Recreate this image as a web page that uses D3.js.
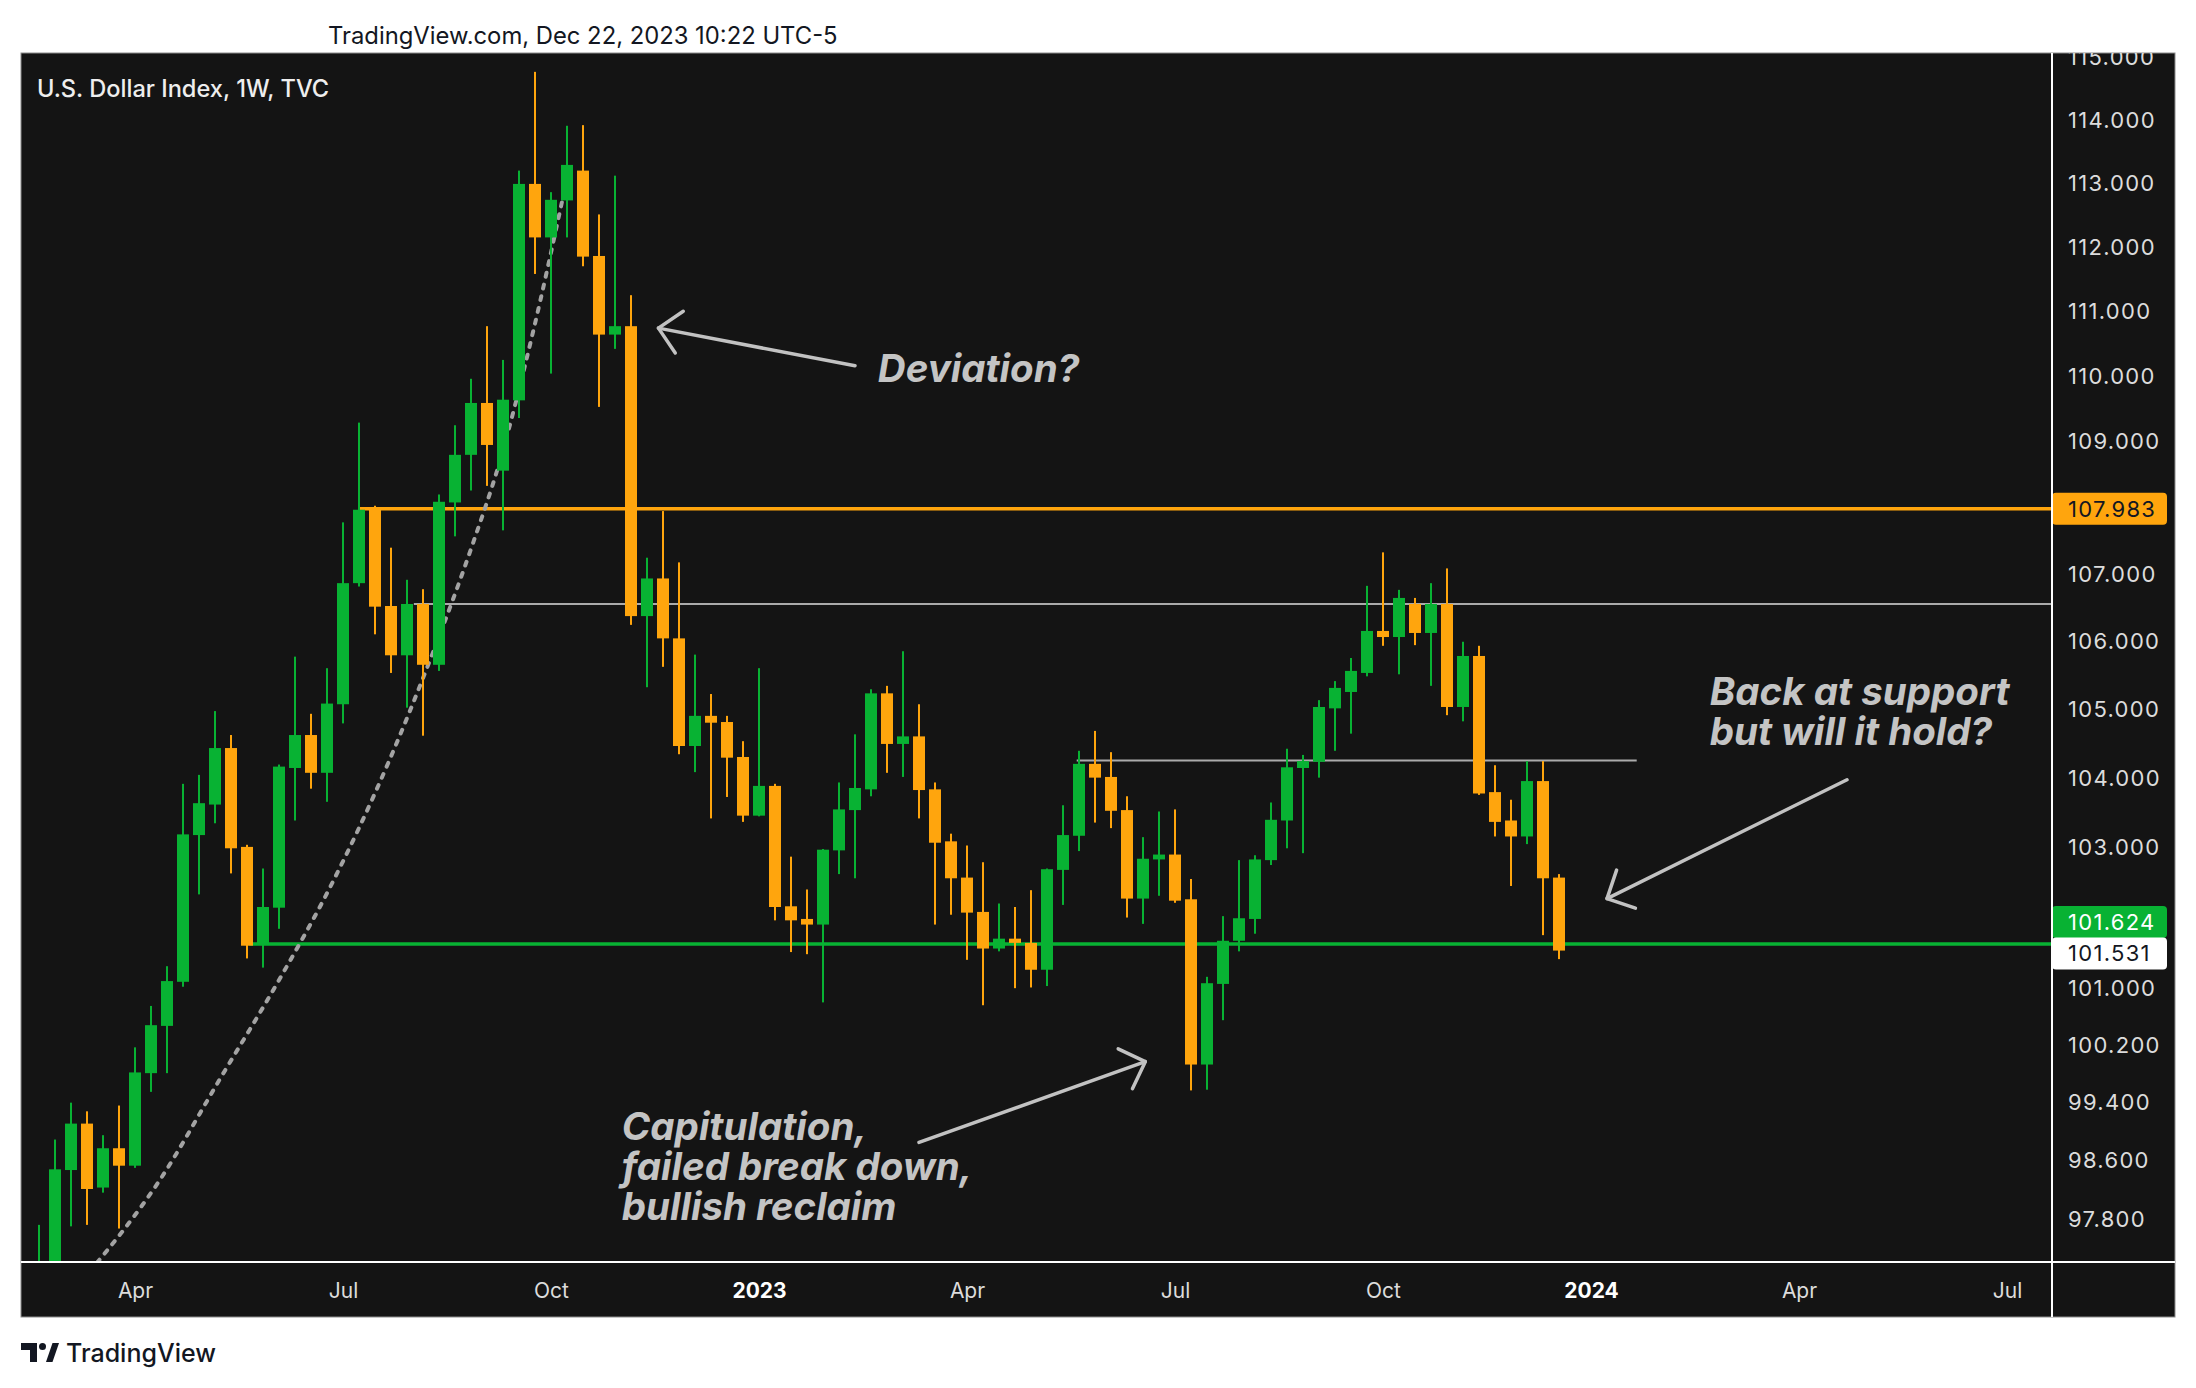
<!DOCTYPE html>
<html>
<head>
<meta charset="utf-8">
<script src="https://d3js.org/d3.v7.min.js"></script>
<style>
  body { margin: 0; background: #ffffff; }
  text { font-family: Inter, "Noto Sans", sans-serif; }
</style>
</head>
<body>
<svg id="chart"></svg>
<script>
// weekly candles of the U.S. Dollar Index (TVC), first bar is the week of Feb 21 2022
var firstWeek = new Date(2022, 1, 21);
var lastWeek = new Date(2023, 11, 18);

var opens = [96.5, 97.1, 98.47, 99.11, 98.23, 98.77, 98.53, 99.81, 100.47, 101.09,
  103.18, 103.62, 104.44, 103.01, 101.62, 102.14, 104.15, 104.63, 104.08, 105.08,
  106.87, 107.99, 106.53, 105.80, 106.56, 105.66, 108.08, 108.80, 109.59, 108.56,
  109.63, 112.99, 112.15, 112.73, 113.20, 111.86, 110.64, 110.77, 106.38, 106.94,
  106.05, 104.47, 104.91, 104.82, 104.31, 103.46, 103.89, 102.16, 101.98, 101.90,
  102.96, 103.54, 103.84, 105.24, 104.50, 104.61, 103.84, 103.09, 102.57, 102.08,
  101.56, 101.70, 101.64, 101.26, 102.68, 103.17, 104.21, 104.02, 103.54, 102.27,
  102.83, 102.90, 102.26, 99.93, 101.06, 101.67, 101.98, 102.82, 103.39, 104.15,
  104.24, 105.02, 105.26, 105.54, 106.16, 106.07, 106.56, 106.13, 106.56, 105.04,
  105.79, 103.80, 103.39, 103.16, 103.96, 102.57];
var highs = [97.72, 98.89, 99.40, 99.28, 98.95, 99.36, 100.17, 100.75, 101.31, 103.92,
  104.05, 104.98, 104.63, 103.04, 102.70, 104.20, 105.78, 104.94, 105.61, 107.78,
  109.29, 108.03, 107.40, 106.92, 106.78, 108.20, 109.25, 109.96, 110.77, 110.25,
  113.20, 114.77, 112.86, 113.91, 113.92, 112.51, 113.12, 111.25, 107.25, 107.95,
  107.18, 105.81, 105.23, 104.91, 104.54, 105.61, 103.92, 102.87, 102.40, 102.98,
  103.94, 104.64, 105.30, 105.35, 105.86, 105.08, 103.94, 103.20, 103.03, 102.79,
  102.20, 102.15, 102.39, 102.70, 103.61, 104.40, 104.69, 104.38, 103.74, 103.15,
  103.52, 103.55, 102.55, 101.16, 102.02, 102.82, 102.89, 103.65, 104.43, 104.34,
  105.14, 105.42, 105.76, 106.83, 107.33, 106.77, 106.65, 106.87, 107.09, 106.00,
  105.94, 104.19, 103.69, 104.25, 104.25, 102.62];
var lows = [96.3, 96.9, 97.70, 97.72, 98.16, 97.67, 98.50, 99.55, 99.81, 101.02,
  102.33, 103.35, 102.63, 101.42, 101.29, 101.84, 103.39, 103.85, 103.66, 104.80,
  106.82, 106.11, 105.54, 105.03, 104.62, 105.57, 107.57, 108.26, 108.33, 107.66,
  109.36, 111.58, 110.04, 112.15, 111.70, 109.53, 110.42, 106.25, 105.33, 105.63,
  104.35, 104.09, 103.42, 103.73, 103.37, 103.45, 101.96, 101.51, 101.48, 100.80,
  102.62, 102.56, 103.74, 104.08, 104.02, 103.42, 101.90, 102.04, 101.40, 100.76,
  101.52, 101.00, 101.01, 101.03, 102.18, 102.95, 103.36, 103.28, 102.00, 101.91,
  102.31, 102.21, 99.57, 99.58, 100.55, 101.52, 101.77, 102.75, 102.99, 102.92,
  104.01, 104.40, 104.65, 105.49, 105.94, 105.52, 105.95, 105.35, 104.92, 104.83,
  103.76, 103.16, 102.45, 103.05, 101.75, 101.41];
var closes = [97.1, 98.48, 99.11, 98.21, 98.77, 98.53, 99.82, 100.48, 101.10, 103.19,
  103.64, 104.44, 102.99, 101.60, 102.15, 104.17, 104.63, 104.08, 105.09, 106.87,
  107.97, 106.52, 105.80, 106.56, 105.66, 108.09, 108.80, 109.59, 108.95, 109.64,
  112.99, 112.15, 112.74, 113.29, 111.85, 110.64, 110.77, 106.38, 106.94, 106.05,
  104.47, 104.91, 104.81, 104.30, 103.46, 103.89, 102.15, 101.96, 101.90, 102.97,
  103.55, 103.86, 105.24, 104.50, 104.61, 103.83, 103.07, 102.56, 102.07, 101.56,
  101.70, 101.64, 101.26, 102.69, 103.18, 104.21, 104.01, 103.53, 102.27, 102.84,
  102.90, 102.24, 99.93, 101.07, 101.67, 101.99, 102.83, 103.40, 104.16, 104.25,
  105.04, 105.32, 105.57, 106.16, 106.07, 106.65, 106.13, 106.56, 105.04, 105.79,
  103.78, 103.37, 103.16, 103.96, 102.56, 101.531];

// axis labels
var monthTicks = ["2022-04-04", "2022-07-04", "2022-10-03", "2023-01-02", "2023-04-03",
  "2023-07-03", "2023-10-02", "2024-01-01", "2024-04-01", "2024-07-01"];
var monthLabels = ["Apr", "Jul", "Oct", "2023", "Apr", "Jul", "Oct", "2024", "Apr", "Jul"];
var priceTicks = [115, 114, 113, 112, 111, 110, 109, 107, 106, 105, 104, 103, 101, 100.2, 99.4, 98.6, 97.8];

// horizontal levels drawn on the chart (null end = runs to the price scale)
var levelPrices = [106.56, 104.26, 107.983, 101.624];
var levelStarts = ["2022-08-04", "2023-05-21", "2022-07-11", "2022-05-24"];
var levelEnds = [null, "2024-01-21", null, null];
var levelKinds = ["range", "range", "resistance", "support"];

// dotted trend curve
var curveDates = ["2022-03-15", "2022-04-15", "2022-05-11", "2022-06-07", "2022-06-28", "2022-07-24",
  "2022-08-12", "2022-08-30", "2022-09-10", "2022-09-25", "2022-10-08"];
var curvePrices = [97.08, 98.34, 99.72, 101.17, 102.41, 104.24, 105.81, 107.48, 108.63, 110.66, 112.74];

// arrows
var arrowTailDates = ["2023-02-13", "2024-04-22", "2023-03-13"];
var arrowTailPrices = [110.16, 103.98, 98.85];
var arrowTipDates = ["2022-11-19", "2024-01-08", "2023-06-20"];
var arrowTipPrices = [110.74, 102.27, 99.97];

// notes
var noteLines = [["Deviation?"], ["Back at support", "but will it hold?"],
  ["Capitulation,", "failed break down,", "bullish reclaim"]];
var noteDates = ["2023-02-23", "2024-02-22", "2022-11-03"];
var notePrices = [109.91, 105.07, 98.89];

var title = "U.S. Dollar Index, 1W, TVC";
var stamp = "TradingView.com, Dec 22, 2023 10:22 UTC-5";

drawChart();

function drawChart(){

  var width = 2196, height = 1388;
  var pane = {left: 21, right: 2052, top: 53, bottom: 1262, axisBottom: 1317, axisRight: 2175};
  var up = "#08b233", down = "#ffa50d", ink = "#131722";
  var parse = d3.timeParse("%Y-%m-%d");

  var weeks = d3.timeMonday.range(firstWeek, d3.timeDay.offset(lastWeek, 1));
  var candles = weeks.map(function(d, i){
    return {date: d, open: opens[i], high: highs[i], low: lows[i], close: closes[i]};
  });

  var x = d3.scaleTime()
    .domain([firstWeek, new Date(2024, 0, 1)])
    .range([39, 1591]);

  // the platform uses a log price scale here
  var y = d3.scaleLog()
    .domain([97.8, 115])
    .range([1219, 57.5]);

  var svg = d3.select("#chart")
    .attr("width", width)
    .attr("height", height);

  svg.append("rect")
    .attr("width", width).attr("height", height)
    .attr("fill", "#ffffff");

  var defs = svg.append("defs");
  defs.append("clipPath").attr("id", "pane-clip")
    .append("rect")
    .attr("x", pane.left).attr("y", pane.top)
    .attr("width", pane.right - pane.left).attr("height", pane.bottom - pane.top);
  defs.append("clipPath").attr("id", "scale-clip")
    .append("rect")
    .attr("x", pane.right).attr("y", pane.top)
    .attr("width", pane.axisRight - pane.right).attr("height", pane.bottom - pane.top);

  // timestamp above the chart
  svg.append("text")
    .attr("x", 328).attr("y", 44)
    .attr("font-size", 23.8)
    .attr("fill", ink)
    .text(stamp);

  // dark panel
  svg.append("rect")
    .attr("x", pane.left).attr("y", pane.top)
    .attr("width", pane.axisRight - pane.left).attr("height", pane.axisBottom - pane.top)
    .attr("fill", "#141414")
    .attr("stroke", "#8c8c8c")
    .attr("stroke-width", 1);

  var plot = svg.append("g").attr("clip-path", "url(#pane-clip)");

  // horizontal levels
  plot.append("g")
    .selectAll("line")
    .data(levelPrices)
    .enter().append("line")
    .attr("x1", function(d, i){ return x(parse(levelStarts[i])); })
    .attr("x2", function(d, i){ return levelEnds[i] ? x(parse(levelEnds[i])) : pane.right; })
    .attr("y1", function(d){ return y(d); })
    .attr("y2", function(d){ return y(d); })
    .attr("stroke", function(d, i){
      if (levelKinds[i] == "resistance"){ return down; }
      if (levelKinds[i] == "support"){ return up; }
      return "#ababab";
    })
    .attr("stroke-width", function(d, i){ return levelKinds[i] == "range" ? 2 : 3.5; });

  // dotted curve
  var curve = d3.line()
    .x(function(d){ return x(parse(d)); })
    .y(function(d, i){ return y(curvePrices[i]); })
    .curve(d3.curveMonotoneX);

  plot.append("path")
    .attr("d", curve(curveDates))
    .attr("fill", "none")
    .attr("stroke", "#a3a3a3")
    .attr("stroke-width", 4)
    .attr("stroke-linecap", "round")
    .attr("stroke-dasharray", "4,8");

  // candles
  var bars = plot.append("g")
    .selectAll("g")
    .data(candles)
    .enter().append("g")
    .attr("fill", function(d){ return d.close >= d.open ? up : down; });

  bars.append("rect")
    .attr("x", function(d){ return x(d.date) - 1; })
    .attr("width", 2)
    .attr("y", function(d){ return y(d.high); })
    .attr("height", function(d){ return y(d.low) - y(d.high); });

  bars.append("rect")
    .attr("x", function(d){ return x(d.date) - 6; })
    .attr("width", 12)
    .attr("y", function(d){ return y(Math.max(d.open, d.close)); })
    .attr("height", function(d){
      return Math.max(1, Math.abs(y(d.open) - y(d.close)));
    });

  // arrows, head arms at 45 degrees
  var arrows = plot.append("g")
    .attr("fill", "none")
    .attr("stroke", "#c2c2c2")
    .attr("stroke-width", 3.5)
    .attr("stroke-linecap", "round")
    .attr("stroke-linejoin", "round");

  arrowTipDates.forEach(function(d, i){
    var tx = x(parse(d)), ty = y(arrowTipPrices[i]);
    var sx = x(parse(arrowTailDates[i])), sy = y(arrowTailPrices[i]);
    var a = Math.atan2(sy - ty, sx - tx);
    var len = 30, spread = Math.PI / 4;
    arrows.append("line")
      .attr("x1", sx).attr("y1", sy)
      .attr("x2", tx).attr("y2", ty);
    arrows.append("path")
      .attr("d", "M" + (tx + len * Math.cos(a - spread)) + "," + (ty + len * Math.sin(a - spread)) +
        "L" + tx + "," + ty +
        "L" + (tx + len * Math.cos(a + spread)) + "," + (ty + len * Math.sin(a + spread)));
  });

  // notes
  var notes = plot.append("g")
    .attr("fill", "#c4c4c4")
    .attr("font-size", 38.5)
    .attr("font-weight", 700)
    .attr("font-style", "italic");

  noteLines.forEach(function(lines, i){
    var t = notes.append("text")
      .attr("x", x(parse(noteDates[i])))
      .attr("y", y(notePrices[i]));
    lines.forEach(function(line, j){
      t.append("tspan")
        .attr("x", x(parse(noteDates[i])))
        .attr("dy", j == 0 ? 0 : 40)
        .text(line);
    });
  });

  // chart title
  svg.append("text")
    .attr("x", 37).attr("y", 97)
    .attr("font-size", 23.6)
    .attr("font-weight", 500)
    .attr("fill", "#eeeeee")
    .text(title);

  // time axis
  var xAxis = d3.axisBottom(x)
    .tickValues(monthTicks.map(parse))
    .tickFormat(function(d, i){ return monthLabels[i]; })
    .tickSize(0)
    .tickPadding(21);

  var gx = svg.append("g")
    .attr("transform", "translate(0," + pane.bottom + ")")
    .call(xAxis);
  gx.select(".domain").remove();
  gx.selectAll("text")
    .attr("font-family", "Inter, sans-serif")
    .attr("font-size", 21)
    .attr("fill", function(d, i){ return /^\d+$/.test(monthLabels[i]) ? "#ffffff" : "#dcdcdc"; })
    .attr("font-weight", function(d, i){ return /^\d+$/.test(monthLabels[i]) ? 700 : 400; });

  // price axis
  var yAxis = d3.axisRight(y)
    .tickValues(priceTicks)
    .tickFormat(d3.format(".3f"))
    .tickSize(0)
    .tickPadding(16);

  var gy = svg.append("g")
    .attr("clip-path", "url(#scale-clip)")
    .append("g")
    .attr("transform", "translate(" + pane.right + ",0)")
    .call(yAxis);
  gy.select(".domain").remove();
  gy.selectAll("text")
    .attr("font-family", "Inter, sans-serif")
    .attr("font-size", 22)
    .attr("letter-spacing", 1.3)
    .attr("fill", "#dcdcdc");

  // price labels on the scale, support label is pushed up to clear the last price
  var lastPrice = closes[closes.length - 1];
  var lastY = y(lastPrice);
  var supportPrice = levelPrices[levelKinds.indexOf("support")];
  var supportY = y(supportPrice);
  if (Math.abs(supportY - lastY) < 32){
    lastY = lastY + 3;
    supportY = lastY - 31.5;
  }
  var resistancePrice = levelPrices[levelKinds.indexOf("resistance")];
  var tags = [
    {price: resistancePrice, cy: y(resistancePrice), fill: down, color: ink},
    {price: supportPrice, cy: supportY, fill: up, color: "#ffffff"},
    {price: lastPrice, cy: lastY, fill: "#ffffff", color: ink}
  ];

  var tag = svg.append("g")
    .selectAll("g")
    .data(tags)
    .enter().append("g");

  tag.append("rect")
    .attr("x", pane.right)
    .attr("y", function(d){ return d.cy - 16; })
    .attr("width", 115).attr("height", 32)
    .attr("rx", 4)
    .attr("fill", function(d){ return d.fill; });

  tag.append("text")
    .attr("x", pane.right + 16)
    .attr("y", function(d){ return d.cy; })
    .attr("dy", "0.36em")
    .attr("font-size", 22)
    .attr("letter-spacing", 1.3)
    .attr("fill", function(d){ return d.color; })
    .text(function(d){ return d3.format(".3f")(d.price); });

  // separators between pane and scales
  svg.append("line")
    .attr("x1", pane.right).attr("x2", pane.right)
    .attr("y1", pane.top).attr("y2", pane.axisBottom)
    .attr("stroke", "#ffffff").attr("stroke-width", 2);
  svg.append("line")
    .attr("x1", pane.left).attr("x2", pane.axisRight)
    .attr("y1", pane.bottom).attr("y2", pane.bottom)
    .attr("stroke", "#ffffff").attr("stroke-width", 2);

  // logo below the chart
  var logo = svg.append("g").attr("fill", ink);
  logo.append("path").attr("d", "M21,1343H37V1362H30V1350H21Z");
  logo.append("circle").attr("cx", 42.5).attr("cy", 1346.5).attr("r", 3.5);
  logo.append("path").attr("d", "M46,1362L52.5,1343H59L52.5,1362Z");
  logo.append("text")
    .attr("x", 66).attr("y", 1362)
    .attr("font-size", 25)
    .attr("font-weight", 500)
    .text("TradingView");
}
</script>
</body>
</html>
